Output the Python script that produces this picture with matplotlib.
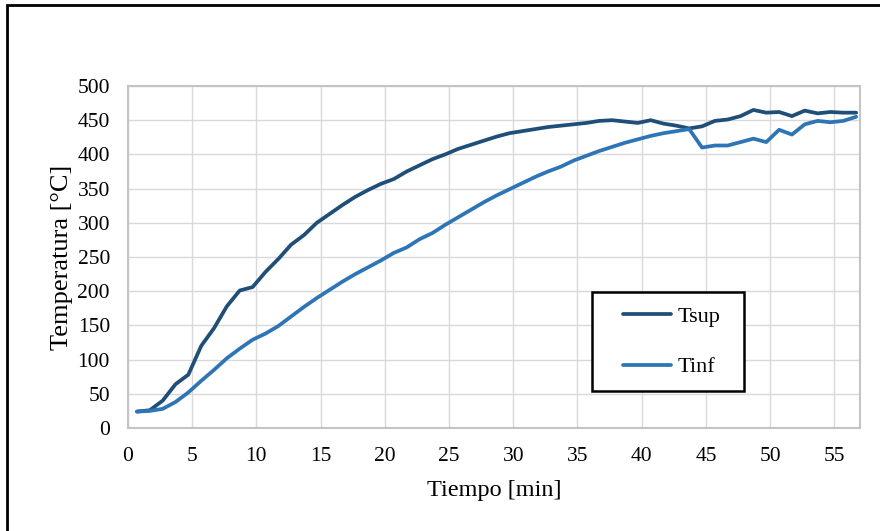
import matplotlib
matplotlib.use('Agg')
import matplotlib.pyplot as plt
from matplotlib.patches import Rectangle

plt.rcParams['font.family'] = ['Liberation Serif', 'DejaVu Serif']

# tiempo de ensayo [min] y temperaturas superior / inferior [°C]
tiempo = [0.7 + i for i in range(57)]
t_sup = [24, 26, 40, 64, 78, 120, 146, 178, 201, 206,
         228, 247, 268, 282, 300, 313, 326, 338, 348, 357,
         364, 375, 384, 393, 400, 408, 414, 420, 426, 431,
         434, 437, 440, 442, 444, 446, 449, 450, 448, 446,
         450, 445, 442, 438, 441, 449, 451, 456, 465, 461,
         462, 456, 464, 460, 462, 461, 461]
t_inf = [24, 25, 28, 38, 52, 69, 85, 102, 116, 129,
         138, 149, 163, 177, 190, 202, 214, 225, 235, 245,
         256, 264, 276, 285, 297, 308, 319, 330, 340, 349,
         358, 367, 375, 382, 391, 398, 405, 411, 417, 422,
         427, 431, 434, 437, 410, 413, 413, 418, 423, 418,
         436, 429, 444, 449, 447, 449, 455]
x_ticks = list(range(0, 60, 5))
y_ticks = list(range(0, 550, 50))

fig = plt.figure(figsize=(8.8, 5.31), dpi=100)
ax = fig.add_axes([128 / 880, 103 / 531, 732 / 880, 342 / 531])

ax.plot(tiempo, t_sup, color='#1F4E79', lw=2.7, label='Tsup', solid_capstyle='round')
ax.plot(tiempo, t_inf, color='#2E75B6', lw=2.7, label='Tinf', solid_capstyle='round')

ax.set_xlim(0, 57)
ax.set_ylim(0, 500)
ax.set_xticks(x_ticks)
ax.set_yticks(y_ticks)
ax.tick_params(length=0, labelsize=15.5)
ax.tick_params(axis='x', pad=14)
ax.tick_params(axis='y', pad=13)
ax.grid(True, color='#D9D9D9', lw=1)
ax.set_axisbelow(True)
for s in ax.spines.values():
    s.set_color('#C4C4C4')
    s.set_linewidth(1.5)

ax.set_xlabel('Tiempo [min]', fontsize=17.5, labelpad=10)
ax.set_ylabel('Temperatura [°C]', fontsize=19, labelpad=3)

# leyenda con marco negro
ax.add_patch(Rectangle((0.634, 0.108), 0.208, 0.29, transform=ax.transAxes,
                       facecolor='white', edgecolor='black', lw=1.8, zorder=5))
leg = ax.legend(loc='upper left', bbox_to_anchor=(0.676, 0.356), frameon=False,
                fontsize=16, handlelength=2.17, handletextpad=0.3,
                labelspacing=1.35, borderpad=0, borderaxespad=0)
leg.set_zorder(6)

# borde del gráfico
fig.add_artist(Rectangle((7 / 880, -0.1), 1.2, 1.1 - 5 / 531, transform=fig.transFigure,
                         fill=False, edgecolor='black', lw=2))

fig.savefig('out.png', dpi=100)
